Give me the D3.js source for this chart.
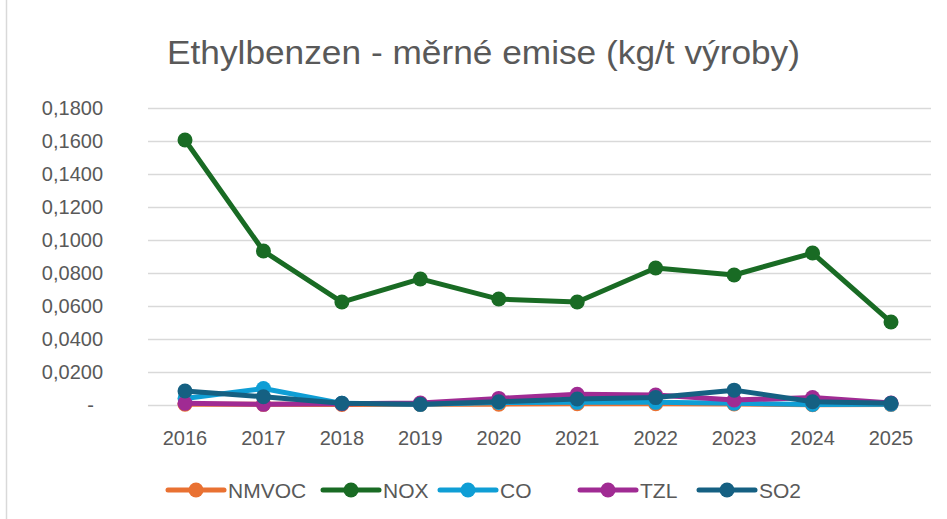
<!DOCTYPE html>
<html>
<head>
<meta charset="utf-8">
<script src="https://cdn.jsdelivr.net/npm/d3@7"></script>
<style>
  body { margin: 0; background: #fff; }
  svg { display: block; font-family: "Liberation Sans", "Noto Sans", sans-serif; }
</style>
</head>
<body>
<svg width="947" height="519"></svg>
<script>
const W = 947, H = 519;

var years = ['2016', '2017', '2018', '2019', '2020', '2021', '2022', '2023', '2024', '2025'];
var nmvoc = [0.0005, 0.0004, 0.0003, 0.0004, 0.0005, 0.0008, 0.0008, 0.0006, 0.0002, 0.0003];
var nox   = [0.1606, 0.0933, 0.0624, 0.0764, 0.0642, 0.0624, 0.0830, 0.0788, 0.0921, 0.0503];
var co    = [0.0040, 0.0100, 0.0010, 0.0005, 0.0015, 0.0016, 0.0016, 0.0010, 0.0003, 0.0005];
var tzl   = [0.0010, 0.0004, 0.0008, 0.0012, 0.0040, 0.0065, 0.0060, 0.0030, 0.0045, 0.0012];
var so2   = [0.0085, 0.0050, 0.0010, 0.0004, 0.0020, 0.0036, 0.0045, 0.0090, 0.0020, 0.0010];
var yTicks = [0, 0.02, 0.04, 0.06, 0.08, 0.10, 0.12, 0.14, 0.16, 0.18];

var series = [
  {name: 'NMVOC', values: nmvoc, color: '#E97132'},
  {name: 'NOX',   values: nox,   color: '#196B24'},
  {name: 'CO',    values: co,    color: '#0F9ED5'},
  {name: 'TZL',   values: tzl,   color: '#A02B93'},
  {name: 'SO2',   values: so2,   color: '#156082'}
];

var svg = d3.select('svg');

// chart frame left edge
svg.append('line').attr('x1', 6.5).attr('x2', 6.5).attr('y1', 0).attr('y2', H)
  .attr('stroke', '#d9d9d9').attr('stroke-width', 1.5);

// title - squeezed to mimic the narrow font
svg.append('text')
  .attr('x', 167).attr('y', 64)
  .attr('font-size', 33)
  .attr('fill', '#595959')
  .attr('textLength', 633)
  .attr('lengthAdjust', 'spacingAndGlyphs')
  .text('Ethylbenzen - měrné emise (kg/t výroby)');

var x = d3.scalePoint().domain(years).range([185, 891]);
var y = d3.scaleLinear().domain([0, 0.18]).range([405, 108]);

var fmt = d => d === 0 ? '-' : d3.format('.4f')(d).replace('.', ',');

// gridlines
var grid = svg.append('g').attr('transform', 'translate(148,0)')
  .call(d3.axisRight(y).tickValues(yTicks).tickSize(783).tickFormat(''));
grid.select('.domain').remove();
grid.selectAll('.tick line').attr('stroke', '#d9d9d9').attr('stroke-width', 1.5);

svg.selectAll('.ylab').data(yTicks).enter()
  .append('text')
  .attr('class', 'ylab')
  .attr('x', d => d === 0 ? 94 : 103)
  .attr('y', d => y(d) + 7)
  .attr('text-anchor', 'end')
  .attr('font-size', 20)
  .attr('fill', '#595959')
  .text(fmt);

// x labels
svg.selectAll('.xlab').data(years).enter()
  .append('text')
  .attr('class', 'xlab')
  .attr('x', d => x(d))
  .attr('y', 445)
  .attr('text-anchor', 'middle')
  .attr('font-size', 20)
  .attr('fill', '#595959')
  .text(d => d);

var line = d3.line().x((d, i) => x(years[i])).y(d => y(d));

series.forEach(s => {
  var g = svg.append('g');
  g.append('path')
    .attr('d', line(s.values))
    .attr('fill', 'none')
    .attr('stroke', s.color)
    .attr('stroke-width', 5)
    .attr('stroke-linejoin', 'round')
    .attr('stroke-linecap', 'round');
  g.selectAll('circle').data(s.values).enter()
    .append('circle')
    .attr('cx', (d, i) => x(years[i]))
    .attr('cy', d => y(d))
    .attr('r', 7.5)
    .attr('fill', s.color);
});

// legend
var legX = [168, 323, 440, 580, 699];
var leg = svg.selectAll('.leg').data(series).enter()
  .append('g').attr('class', 'leg')
  .attr('transform', (d, i) => 'translate(' + legX[i] + ',490)');
leg.append('line').attr('x1', 0).attr('x2', 56)
  .attr('stroke', d => d.color).attr('stroke-width', 5).attr('stroke-linecap', 'round');
leg.append('circle').attr('cx', 28).attr('r', 7.5).attr('fill', d => d.color);
leg.append('text').attr('x', 60).attr('y', 7.5)
  .attr('font-size', 21).attr('fill', '#595959')
  .text(d => d.name);
</script>
</body>
</html>
